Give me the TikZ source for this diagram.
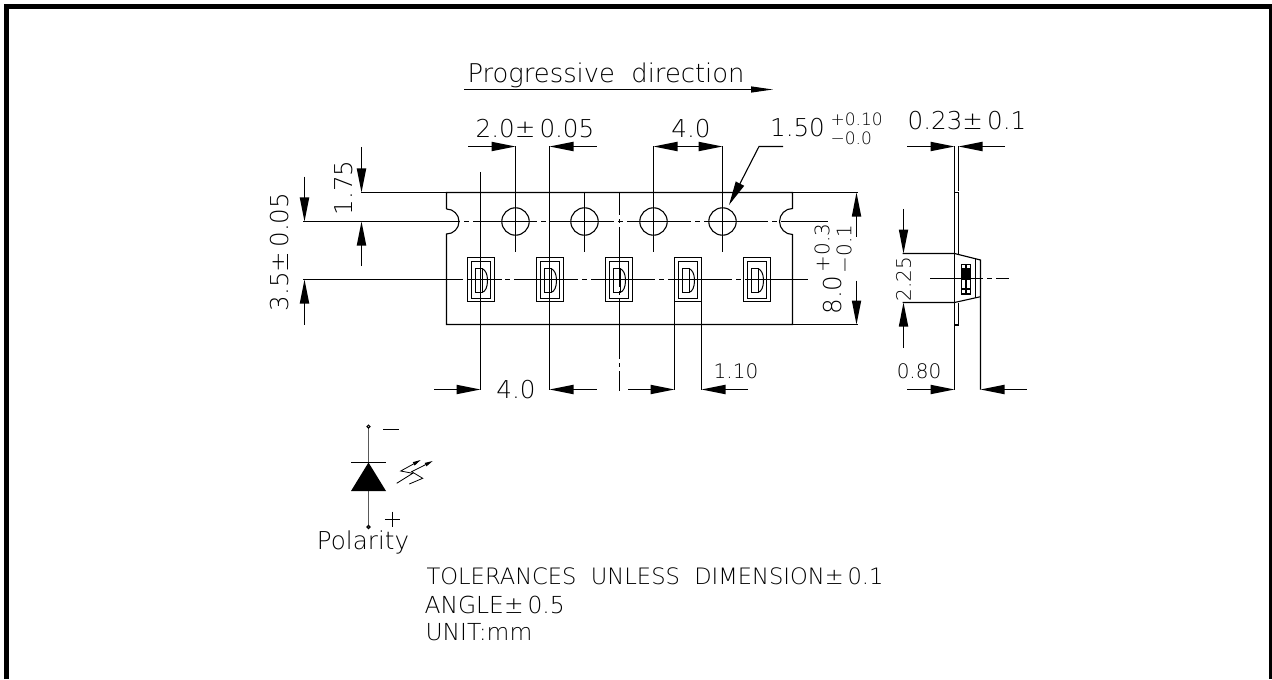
\documentclass[tikz,border=0pt]{standalone}
\usepackage{fontspec}
\setmainfont{DejaVu Sans ExtraLight}
\usetikzlibrary{arrows.meta}

\begin{document}
\begin{tikzpicture}
        [
        x=0.5pt,y=-0.5pt,
        line width=0.55pt,
        edge/.style={-{Triangle[length=12pt,width=4.6pt]}},
        centerline/.style={dash pattern=on 2.5pt off 2pt on 32pt off 2pt},
        dimtext/.style={inner sep=0pt,font=\fontsize{12.3}{13}\selectfont},
        smalltext/.style={inner sep=0pt,font=\fontsize{10}{11}\selectfont},
        notetext/.style={inner sep=0pt,anchor=west,font=\fontsize{11.7}{12}\selectfont}
        ]
    \useasboundingbox (0,0) rectangle (1272,679);
    \draw[line width=2.6pt] (6.7,679) -- (6.7,6.7) -- (1271.5,6.7) -- (1271.5,679);
    % tape outline
    \draw (446.5,209) -- (446.5,192.5) -- (792.5,192.5) -- (792.5,208.5) arc[start angle=-90,end angle=-270,radius=13] -- (792.5,324.5) -- (446.5,324.5) -- (446.5,234) arc[start angle=90,end angle=-90,radius=12.5];
    % holes and pockets
    \foreach \x in {515.5,584.5,653.5,722.5}
        \draw (\x,221.5) circle[radius=13.7];
    \foreach \x in {467.5,536.5,605.5,674.5,743.5} {
        \draw[line width=0.5pt] (\x,257.5) rectangle +(27,44);
        \draw[line width=0.5pt] (\x+4,261) rectangle +(19,37);
        \draw[line width=0.5pt] (\x+7.5,268.5) rectangle +(7,24);
        \draw[line width=0.5pt] (\x+14.5,268.5) .. controls (\x+18,270) and (\x+20,274) .. (\x+20,280.5) .. controls (\x+20,287) and (\x+18,291.5) .. (\x+14.5,292.5);
    }
    % centre lines
    \draw (303,221.5) -- (460,221.5);
    \draw[centerline] (464,221.5) -- (828,221.5);
    \draw (303,279.5) -- (463,279.5);
    \draw (467,279.5) -- (502,279.5);
    \draw[centerline] (505,279.5) -- (808,279.5);
    \draw[dash pattern=on 30pt off 2pt on 2pt off 2pt,dash phase=18.5pt] (619.5,192) -- (619.5,391);
    % extension lines
    \draw (515.5,146.5) -- (515.5,252);
    \draw (549.5,146.5) -- (549.5,389.5);
    \draw (480.5,172) -- (480.5,389.5);
    \draw (584.5,192) -- (584.5,252);
    \draw (653.5,146.5) -- (653.5,252);
    \draw (722.5,146.5) -- (722.5,252);
    \draw (674.5,301.5) -- (674.5,389.5);
    \draw (701.5,301.5) -- (701.5,389.5);
    \draw (361,192.5) -- (446.5,192.5);
    \draw (792.5,192.5) -- (858,192.5);
    \draw (792.5,324.5) -- (858,324.5);
    % arrows on the tape
    \draw[edge] (304.5,176.7) -- (304.5,221.5);
    \draw[edge] (304.5,324.7) -- (304.5,279.5);
    \draw[edge] (361.5,147) -- (361.5,192.5);
    \draw[edge] (361.5,266) -- (361.5,221.5);
    \draw[edge] (468,146.5) -- (515.5,146.5);
    \draw[edge] (596.7,146.5) -- (549.5,146.5);
    \draw[edge] (688.3,146.5) -- (653.5,146.5);
    \draw[edge] (688.3,146.5) -- (722.5,146.5);
    \draw[edge] (783,146.5) -- (759,146.5) -- (729,205);
    \draw[edge] (856.5,236.7) -- (856.5,192.5);
    \draw[edge] (856.5,280.7) -- (856.5,324.5);
    \draw[edge] (434,389.5) -- (480.5,389.5);
    \draw[edge] (596.7,389.5) -- (549.5,389.5);
    \draw[edge] (628,389.5) -- (674.5,389.5);
    \draw[edge] (748,389.5) -- (701.5,389.5);
    \draw[-{Triangle[length=11pt,width=3pt]}] (464,89.5) -- (773,89.5);
    % side view
    \draw (954.5,146.5) -- (954.5,389.5);
    \draw (958.5,146.5) -- (958.5,191);
    \draw (954.5,192.7) -- (958.5,192.7) -- (958.5,253.5);
    \draw (958.5,302.5) -- (958.5,325) -- (954.5,325);
    \draw (902.7,253.5) -- (954.5,253.5) -- (980.5,260) -- (980.5,389.5);
    \draw (902.7,302.5) -- (954.5,302.5) -- (980.5,296.7);
    \draw (975.5,259) -- (975.5,298);
    \draw (961.5,264.5) rectangle (970.5,294);
    \draw (966,264.5) -- (966,294);
    \draw (961.5,268.5) -- (970.5,268.5);
    \draw (961.5,289) -- (970.5,289);
    \fill (961.5,268.5) rectangle (970.5,280);
    \draw[centerline,dash phase=10pt] (930,278.5) -- (1009,278.5);
    \draw[edge] (907,146.5) -- (954.5,146.5);
    \draw[edge] (1005,146.5) -- (958.5,146.5);
    \draw[edge] (903.5,209) -- (903.5,253.5);
    \draw[edge] (903.5,348) -- (903.5,302.5);
    \draw[edge] (907,389.5) -- (954.5,389.5);
    \draw[edge] (1026.7,389.5) -- (980.5,389.5);
    % polarity symbol
    \draw[gray!70!black] (368.5,428.2) -- (368.5,525.5);
    \draw (368.5,426.7) circle[radius=1.5];
    \draw (368.5,527) circle[radius=1.5];
    \draw (351,462.5) -- (386,462.5);
    \fill (368.5,462.5) -- (386,491) -- (351,491) -- cycle;
    \draw (383,429.5) -- (398.7,429.5);
    \draw (392.5,511.5) -- (392.5,526.5);
    \draw (384.8,519.5) -- (399.8,519.5);
    \draw[line width=0.4pt,-{Triangle[length=4pt,width=1.8pt]}] (396.7,483.3) -- (412.7,473.3) -- (400.7,471) -- (420.7,460);
    \draw[line width=0.4pt,-{Triangle[length=4pt,width=1.8pt]}] (409.3,484) -- (422.7,478.3) -- (411.7,471.7) -- (432.7,461);
    % labels
    \node[dimtext,font=\fontsize{12.9}{13}\selectfont] (progtext) at (606,75) {Progressive\ \ direction};
    \node[dimtext] (pitcha) at (535,129) {2.0±\,0.05};
    \node[dimtext] (pitchb) at (691,129) {4.0};
    \node[dimtext] (holedia) at (797.5,127.5) {1.50};
    \node[smalltext,anchor=west,font=\fontsize{8.5}{9}\selectfont] (holeup) at (830,119) {+0.10};
    \node[smalltext,anchor=west,font=\fontsize{8.5}{9}\selectfont] (holelow) at (830,138) {−0.0};
    \node[dimtext] (thick) at (967,120.5) {0.23±\,0.1};
    \node[dimtext,rotate=90] (widtha) at (280,252) {3.5±\,0.05};
    \node[dimtext,rotate=90] (widthb) at (344,188) {1.75};
    \node[dimtext,rotate=90] (widthc) at (833,295) {8.0};
    \node[smalltext,rotate=90] (widthup) at (822,248) {+0.3};
    \node[smalltext,rotate=90] (widthlow) at (844,249) {−0.1};
    \node[smalltext,rotate=90] (height) at (903.5,279) {2.25};
    \node[dimtext] (pitchc) at (516,389.5) {4.0};
    \node[smalltext] (pocket) at (736,371.5) {1.10};
    \node[smalltext] (depth) at (919,371.5) {0.80};
    \node[dimtext] (polarity) at (363,542) {Polarity};
    \node[notetext,font=\fontsize{11.3}{12}\selectfont] (tol) at (426,576) {TOLERANCES\ \ UNLESS\ \ DIMENSION±\,0.1};
    \node[notetext] (angle) at (424,604.5) {ANGLE±\,0.5};
    \node[notetext] (unit) at (425,632.5) {UNIT:mm};
    \end{tikzpicture}
\end{document}
